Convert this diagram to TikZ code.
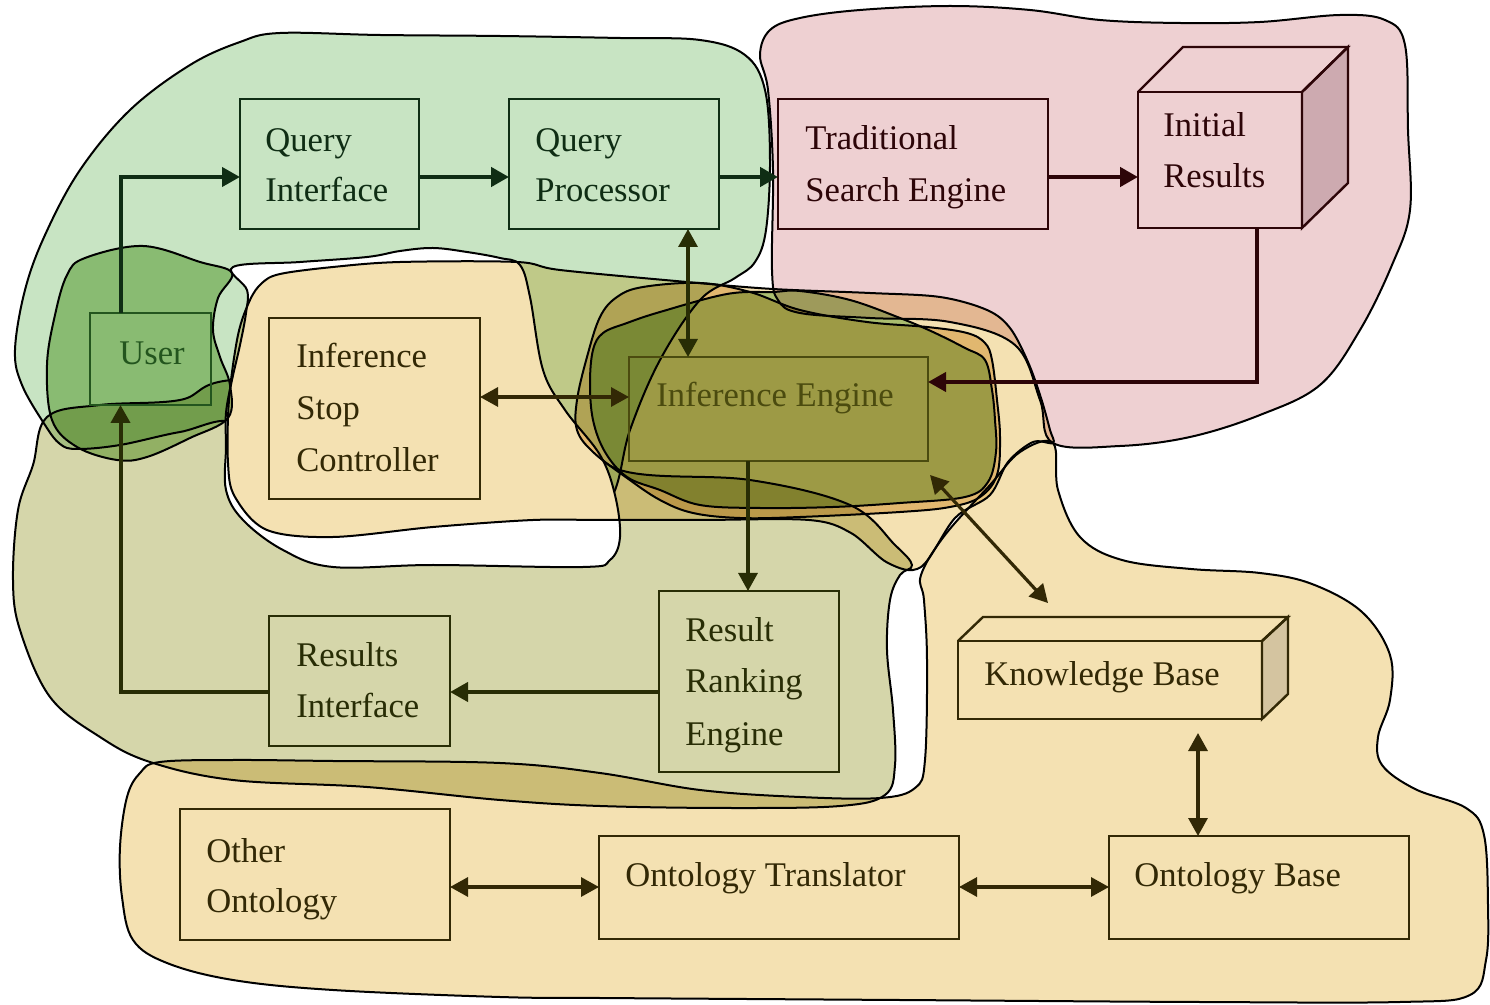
\documentclass[tikz,border=0pt]{standalone}
\usepackage{fontspec}
\setmainfont{Liberation Serif}
\usetikzlibrary{arrows.meta,fit,calc}

% region fills (combined with multiply where they overlap)
\definecolor{pinkF}{RGB}{238,208,210}
\definecolor{greenF}{RGB}{200,228,195}
\definecolor{orangeF}{RGB}{244,225,178}
\definecolor{oliveF}{RGB}{213,214,170}
\definecolor{coreO}{RGB}{236,208,160}
\definecolor{coreG}{RGB}{178,215,160}
\definecolor{userF}{RGB}{175,210,150}
% ink colours
\definecolor{inkG}{RGB}{15,45,20}
\definecolor{inkP}{RGB}{45,5,8}
\definecolor{inkO}{RGB}{50,40,5}
\definecolor{inkU}{RGB}{35,85,30}
\definecolor{inkE}{RGB}{75,75,15}
\definecolor{inkL}{RGB}{40,45,5}
\definecolor{faceP}{RGB}{205,170,176}
\definecolor{faceO}{RGB}{212,196,160}

\tikzset{
  blob/.style={draw=black, line width=1pt},
  box/.style={draw, line width=1.2pt, inner sep=0pt, outer sep=0pt},
  lbl/.style={font=\fontsize{17.3}{20}\selectfont, inner sep=0pt, anchor=base west},
  tip/.tip={Triangle[length=9pt,width=9.5pt]},
  arr/.style={line width=1.6pt, -tip},
  darr/.style={line width=1.6pt, tip-tip},
  heavy/.style={line width=2.4pt},
}

\begin{document}
\begin{tikzpicture}[x=0.5pt, y=-0.5pt]
\useasboundingbox (0,0) rectangle (1490,1005);
\fill[white] (0,0) rectangle (1490,1005);

% ---------- regions ----------
\begin{scope}[blend mode=multiply]
  % search engine region
  \filldraw[blob, fill=pinkF] plot[smooth cycle, tension=0.6] coordinates {
    (760,55) (770,30) (800,18) (860,10) (950,6) (1030,10) (1100,20) (1180,23)
    (1260,22) (1340,15) (1385,20) (1405,45) (1408,130) (1410,210) (1392,265)
    (1360,330) (1320,385) (1260,415) (1190,437) (1120,446) (1053,443)
    (1040,400) (1015,345) (950,322) (870,318) (800,313) (778,300) (772,270)
    (773,170) (768,90)};
  % query region
  \filldraw[blob, fill=greenF] plot[smooth cycle, tension=0.6] coordinates {
    (280,33) (380,35) (500,36) (620,38) (700,40) (745,55) (765,90) (770,160)
    (766,230) (755,262) (735,278) (700,300) (660,360) (630,430) (610,500)
    (560,535) (420,540) (300,535) (255,500) (236,425) (180,432) (120,445)
    (77,449) (60,444) (45,425) (22,385) (15,350) (25,290) (45,235) (80,170)
    (130,110) (190,65) (240,42)};
  % ontology region
  \filldraw[blob, fill=orangeF] plot[smooth cycle, tension=0.6] coordinates {
    (1053,443) (1058,490) (1080,537) (1122,560) (1191,569) (1260,573)
    (1312,584) (1362,612) (1390,655) (1390,700) (1378,737) (1382,765)
    (1415,789) (1466,808) (1484,835) (1488,905) (1486,960) (1470,995)
    (1400,1002) (1200,1002) (900,1000) (600,998) (500,997) (333,990)
    (233,980) (167,963) (133,940) (122,897) (120,847) (127,797) (140,773)
    (160,762) (233,760) (333,761) (500,763) (600,773) (700,790) (800,797)
    (880,798) (915,788) (925,760) (927,660) (924,600) (921,575) (945,535)
    (990,485) (1020,452)};
  % ranking region
  \filldraw[blob, fill=oliveF] plot[smooth cycle, tension=0.6] coordinates {
    (47,417) (100,405) (180,400) (232,380) (400,380) (560,420) (620,470)
    (750,480) (850,505) (895,545) (912,565) (900,575) (890,600) (887,650)
    (893,710) (895,765) (885,795) (840,806) (733,808) (600,806) (500,800)
    (367,787) (233,780) (150,762) (100,737) (50,697) (20,630) (13,580)
    (18,510) (33,465)};
\end{scope}

% gap left round the stop controller
\filldraw[blob, fill=white] plot[smooth cycle, tension=0.6] coordinates {
  (233,267) (300,262) (367,257) (400,251) (433,248) (467,252) (500,258)
  (520,265) (530,297) (543,370) (565,410) (600,455) (615,495) (620,537)
  (610,560) (583,567) (433,565) (333,567) (283,550) (243,520) (226,490)
  (226,447) (226,413) (232,380) (240,345) (246,313) (247,290)};

\begin{scope}[blend mode=multiply]
  % inference region
  \filldraw[blob, fill=orangeF] plot[smooth cycle, tension=0.55] coordinates {
    (262,283) (280,274) (333,267) (400,262) (517,262) (560,270) (687,282)
    (773,289) (870,293) (940,297) (987,310) (1010,328) (1028,362)
    (1041,398) (1050,430) (1053,443) (1033,442) (1008,462) (990,495)
    (955,518) (921,567) (888,563) (851,533) (809,520) (700,520) (600,520)
    (533,520) (433,527) (333,537) (267,530) (235,497) (228,463) (229,400)
    (238,335) (250,300)};
  % inference core, outer
  \filldraw[blob, fill=coreO] plot[smooth cycle, tension=0.6] coordinates {
    (700,283) (643,287) (617,297) (600,317) (587,357) (577,400) (577,430)
    (593,452) (627,478) (660,500) (693,513) (740,518) (800,517) (900,512)
    (950,507) (980,497) (997,475) (1000,437) (997,400) (992,360) (985,343)
    (967,333) (927,327) (867,322) (800,310) (750,292)};
  % inference core, inner
  \filldraw[blob, fill=coreG] plot[smooth cycle, tension=0.6] coordinates {
    (590,383) (593,350) (603,333) (627,323) (660,312) (727,294) (773,292)
    (800,291) (850,300) (900,318) (933,332) (965,348) (985,360) (992,390)
    (995,420) (996,452) (988,482) (965,497) (900,503) (833,507) (760,508)
    (700,505) (660,490) (627,477) (605,452) (593,420)};
  % user region
  \filldraw[blob, fill=userF] plot[smooth cycle, tension=0.6] coordinates {
    (143,246) (200,262) (232,273) (218,298) (213,330) (220,357) (230,385)
    (228,418) (190,438) (147,457) (117,460) (77,447) (52,420) (47,365)
    (55,315) (67,275) (85,258)};
\end{scope}

% ---------- components ----------
\node[box, draw=inkG, fit={(240,99) (419,229)}] (qi) {};
\node[box, draw=inkG, fit={(509,99) (719,229)}] (qp) {};
\node[box, draw=inkP, fit={(778,99) (1048,229)}] (tse) {};
\node[box, draw=inkP, fit={(1138,92) (1302,228)}] (ir) {};
\filldraw[draw=inkP, line width=1.2pt, fill=faceP, line join=miter]
  (ir.north east) -- ++(46,-45) -- ++(0,136) -- (ir.south east) -- cycle;
\draw[inkP, line width=1.2pt, line join=miter]
  (ir.north west) -- ++(45,-45) -- ++(165,0) -- (ir.north east);
\node[box, draw=inkU, fit={(90,313) (211,405)}] (user) {};
\node[box, draw=inkO, fit={(269,318) (480,499)}] (isc) {};
\node[box, draw=inkE, fit={(629,357) (928,461)}] (ie) {};
\node[box, draw=inkL, fit={(269,616) (450,746)}] (ri) {};
\node[box, draw=inkL, fit={(659,591) (839,772)}] (rre) {};
\node[box, draw=inkO, fit={(958,641) (1262,719)}] (kb) {};
\filldraw[draw=inkO, line width=1.2pt, fill=faceO, line join=miter]
  (kb.north east) -- ++(26,-24) -- ++(0,77) -- (kb.south east) -- cycle;
\draw[inkO, line width=1.2pt, line join=miter]
  (kb.north west) -- ++(25,-24) -- ++(305,0) -- (kb.north east);
\node[box, draw=inkO, fit={(180,809) (450,940)}] (oo) {};
\node[box, draw=inkO, fit={(599,836) (959,939)}] (ot) {};
\node[box, draw=inkO, fit={(1109,836) (1409,939)}] (ob) {};

% ---------- labels ----------
\node[lbl, text=inkG] (qiA) at (265,152) {Query};
\node[lbl, text=inkG] (qiB) at (265,202) {Interface};
\node[lbl, text=inkG] (qpA) at (535,152) {Query};
\node[lbl, text=inkG] (qpB) at (535,202) {Processor};
\node[lbl, text=inkP] (tseA) at (805,150) {Traditional};
\node[lbl, text=inkP] (tseB) at (805,202) {Search Engine};
\node[lbl, text=inkP] (irA) at (1163,137) {Initial};
\node[lbl, text=inkP] (irB) at (1163,188) {Results};
\node[lbl, text=inkU] (userA) at (119,365) {User};
\node[lbl, text=inkO] (iscA) at (296,368) {Inference};
\node[lbl, text=inkO] (iscB) at (296,420) {Stop};
\node[lbl, text=inkO] (iscC) at (296,472) {Controller};
\node[lbl, text=inkE] (ieA) at (656,407) {Inference Engine};
\node[lbl, text=inkL] (riA) at (296,667) {Results};
\node[lbl, text=inkL] (riB) at (296,718) {Interface};
\node[lbl, text=inkL] (rreA) at (685,642) {Result};
\node[lbl, text=inkL] (rreB) at (685,693) {Ranking};
\node[lbl, text=inkL] (rreC) at (685,745) {Engine};
\node[lbl, text=inkO] (kbA) at (984,686) {Knowledge Base};
\node[lbl, text=inkO] (ooA) at (206,862) {Other};
\node[lbl, text=inkO] (ooB) at (206,912) {Ontology};
\node[lbl, text=inkO] (otA) at (625,886) {Ontology Translator};
\node[lbl, text=inkO] (obA) at (1134,886) {Ontology Base};

% ---------- connectors ----------
\draw[arr, inkG, line width=2pt] ([xshift=-15pt]user.north) |- (qi.west |- 0,177);
\draw[arr, heavy, inkG] (qi.east |- 0,177) -- (qp.west |- 0,177);
\draw[arr, heavy, inkG] (qp.east |- 0,177) -- (tse.west |- 0,177);
\draw[arr, heavy, inkP] (tse.east |- 0,177) -- (ir.west |- 0,177);
\draw[arr, inkP, line width=2pt] (ir.south -| 1257,0) |- (ie.east |- 0,382);
\draw[darr, inkL] (qp.south -| 688,0) -- (ie.north -| 688,0);
\draw[darr, inkO] (isc.east |- 0,397) -- (ie.west |- 0,397);
\draw[arr, inkL] (ie.south -| 748,0) -- (rre.north -| 748,0);
\draw[arr, inkL, line width=2pt] (rre.west |- 0,692) -- (ri.east |- 0,692);
\draw[arr, inkL, line width=2pt] (ri.west |- 0,692) -| ([xshift=-15pt]user.south);
\draw[darr, inkO] ($(ie.south east)+(2,14)$) -- ($(kb.north west)+(90,-38)$);
\draw[darr, inkO] ($(kb.south -| 1198,0)+(0,14)$) -- (ob.north -| 1198,0);
\draw[darr, inkO] (oo.east |- 0,887) -- (ot.west |- 0,887);
\draw[darr, inkO] (ot.east |- 0,887) -- (ob.west |- 0,887);
\end{tikzpicture}
\end{document}
